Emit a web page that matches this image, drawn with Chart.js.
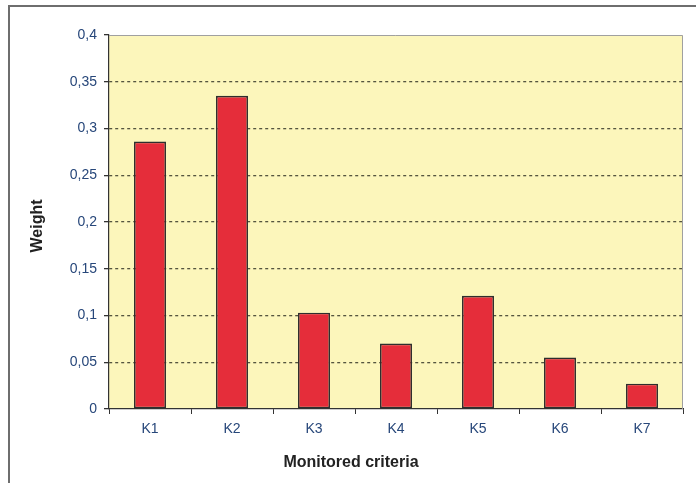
<!DOCTYPE html>
<html>
<head>
<meta charset="utf-8">
<script src="https://cdn.jsdelivr.net/npm/chart.js@4/dist/chart.umd.min.js"></script>
<style>
  html, body { margin: 0; padding: 0; background: #ffffff; }
  #wrap { width: 696px; height: 483px; }
</style>
</head>
<body>
<div id="wrap"><canvas id="c" width="696" height="483"></canvas></div>
<script>
// Criteria and their weights
const criteria = ['K1', 'K2', 'K3', 'K4', 'K5', 'K6', 'K7'];
const weights = [0.286, 0.335, 0.103, 0.070, 0.121, 0.055, 0.027];
const yMin = 0;
const yMax = 0.4;
const yStep = 0.05;
const xTitle = 'Monitored criteria';
const yTitle = 'Weight';

const tickColor = '#27477a';
const titleColor = '#222222';

// Decimal comma formatting for the weight axis
function commaNum(v) {
  return String(Number(v.toFixed(2))).replace('.', ',');
}

// Page frame, yellow plot background, plot frame and axis titles
const decor = {
  id: 'decor',
  beforeDraw(chart) {
    const { ctx, chartArea: a } = chart;
    ctx.save();
    ctx.fillStyle = '#ffffff';
    ctx.fillRect(0, 0, chart.width, chart.height);
    ctx.strokeStyle = '#6e6e6e';
    ctx.lineWidth = 2;
    ctx.strokeRect(9, 6, chart.width + 20, chart.height + 20);
    ctx.fillStyle = '#fcf6bb';
    ctx.fillRect(a.left, a.top, a.right - a.left, a.bottom - a.top);
    ctx.restore();
  },
  beforeDatasetsDraw(chart) {
    const { ctx, chartArea: a } = chart;
    ctx.save();
    ctx.strokeStyle = '#a0a0a0';
    ctx.lineWidth = 1;
    ctx.beginPath();
    ctx.moveTo(a.left, a.top + 0.5);
    ctx.lineTo(a.right - 0.5, a.top + 0.5);
    ctx.lineTo(a.right - 0.5, a.bottom);
    ctx.stroke();
    ctx.restore();
  },
  afterDraw(chart) {
    const { ctx } = chart;
    ctx.save();
    ctx.fillStyle = titleColor;
    ctx.font = 'bold 16px "Liberation Sans", Arial, sans-serif';
    ctx.textAlign = 'center';
    ctx.textBaseline = 'middle';
    ctx.fillText(xTitle, 351, 463);
    ctx.translate(38, 226);
    ctx.rotate(-Math.PI / 2);
    ctx.fillText(yTitle, 0, 0);
    ctx.restore();
  }
};

new Chart(document.getElementById('c'), {
  type: 'bar',
  data: {
    labels: criteria,
    datasets: [{
      data: weights,
      backgroundColor: '#e52d3a',
      borderColor: '#2e2e2e',
      borderWidth: 1.6,
      borderSkipped: false,
      categoryPercentage: 1,
      barPercentage: 0.39
    }]
  },
  options: {
    responsive: false,
    animation: false,
    devicePixelRatio: 1,
    layout: { padding: { left: 0, top: 35, right: 13, bottom: 0 } },
    plugins: {
      legend: { display: false },
      tooltip: { enabled: false },
      title: { display: false }
    },
    scales: {
      x: {
        offset: true,
        afterFit(scale) { scale.height = 74; },
        grid: {
          offset: true,
          drawOnChartArea: false,
          drawTicks: true,
          tickLength: 5,
          tickColor: '#333333',
          color: '#333333'
        },
        border: { display: true, color: '#333333', width: 1.2 },
        ticks: {
          color: tickColor,
          padding: 7,
          font: { family: '"Liberation Sans", Arial, sans-serif', size: 14 }
        }
      },
      y: {
        min: yMin,
        max: yMax,
        afterFit(scale) { scale.width = 109; },
        grid: {
          drawTicks: true,
          tickLength: 5,
          tickColor: '#333333',
          lineWidth: 1.3,
          color(ctx) {
            const v = ctx.tick ? ctx.tick.value : null;
            if (v === null) return 'rgba(0,0,0,0)';
            if (Math.abs(v - yMin) < 1e-9 || Math.abs(v - yMax) < 1e-9) return 'rgba(0,0,0,0)';
            return '#55553f';
          }
        },
        border: { display: true, color: '#333333', width: 1.2, dash: [3, 3] },
        ticks: {
          stepSize: yStep,
          color: tickColor,
          padding: 7,
          font: { family: '"Liberation Sans", Arial, sans-serif', size: 14 },
          callback: (v) => commaNum(v)
        }
      }
    }
  },
  plugins: [decor]
});
</script>
</body>
</html>
